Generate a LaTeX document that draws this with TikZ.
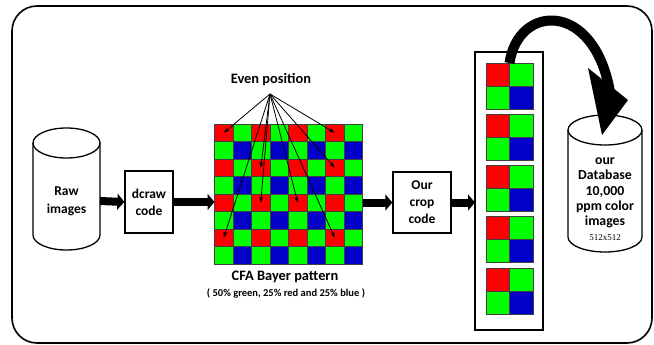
\documentclass[tikz,border=0pt]{standalone}
\usepackage{fontspec}
\setmainfont{Carlito}
\newfontfamily\sizefont{Liberation Serif}
\usetikzlibrary{arrows.meta}

% Bayer filter colours: index = 2*(row mod 2) + (col mod 2)
\definecolor{cell0}{RGB}{255,0,0}
\definecolor{cell1}{RGB}{0,255,0}
\definecolor{cell2}{RGB}{0,255,0}
\definecolor{cell3}{RGB}{0,0,200}

\tikzset{
  frame/.style={draw, line width=1.6pt, rounded corners=25pt},
  outline/.style={draw, line width=1.3pt},
  boxnode/.style={outline, fill=white, inner sep=0pt, align=center,
    font=\bfseries\fontsize{13.5}{17}\selectfont},
  hidden/.style={inner sep=0pt, outer sep=0pt},
  txt/.style={inner sep=0pt, align=center, font=\bfseries\fontsize{13.5}{18}\selectfont},
  pixel/.style={draw=black!75, line width=0.6pt, inner sep=0pt, outer sep=0pt},
  flow/.style={line width=8pt, -{Triangle[length=7pt,width=16pt]}},
  pointer/.style={line width=0.8pt, -{Stealth[length=6pt,width=4pt]}},
}

\begin{document}
\begin{tikzpicture}[x=1pt, y=-1pt]
\useasboundingbox (0,0) rectangle (654,345);

% rounded outer frame
\draw[frame] (12,6) rectangle (652,343);

% ---- raw image store (cylinder) ----
\draw[outline] (33,143) -- (33,235)
  arc[start angle=180, end angle=0, x radius=33.5, y radius=15] -- (100,143);
\draw[outline] (66.5,143) ellipse[x radius=33.5, y radius=15];
\node[hidden, minimum width=67pt, minimum height=100pt, txt] (raw) at (66.5,201) {Raw\\images};

% ---- dcraw ----
\node[boxnode, minimum width=48pt, minimum height=62pt] (dcraw) at (149,202) {dcraw\\code};

% ---- CFA Bayer grid (cells 18.5 wide, 17.5 high) ----
\node[hidden, minimum width=148pt, minimum height=140pt] (bayer) at (288.5,194) {};
\foreach \r in {0,...,7}{
  \foreach \c in {0,...,7}{
    \pgfmathtruncatemacro\k{2*mod(\r,2)+mod(\c,2)}
    \node[pixel, fill=cell\k, minimum width=18.5pt, minimum height=17.5pt] (g-\r-\c)
      at ({214.5+18.5*(\c+0.5)},{124+17.5*(\r+0.5)}) {};
  }
}
\node[txt, font=\bfseries\fontsize{14.4}{16}\selectfont] (even) at (271,80) {Even position};
\coordinate (apex) at (270,94);
\foreach \p in {0-0,0-6,2-2,2-6,4-2,4-4,6-0,6-6}
  \draw[pointer] (apex) -- (g-\p.center);

\node[txt, font=\bfseries\fontsize{14.4}{16}\selectfont] (cfa) at (285,277) {CFA Bayer pattern};
\node[txt, font=\bfseries\fontsize{10.5}{12}\selectfont] (mix) at (286,293)
  {( 50\% green, 25\% red and 25\% blue )};

% ---- crop ----
\node[boxnode, minimum width=58pt, minimum height=61pt] (crop) at (422,202.5) {Our\\crop\\code};

% ---- cropped 2x2 tiles ----
\node[outline, hidden, minimum width=68pt, minimum height=278pt] (tall) at (509,191) {};
\foreach \i in {0,...,4}{
  \pgfmathsetmacro\top{63+51.2*\i}
  \node[hidden, minimum width=47pt, minimum height=46pt] (b\i) at (509.5,{\top+23}) {};
  \foreach \r in {0,1}{
    \foreach \c in {0,1}{
      \pgfmathtruncatemacro\k{2*\r+\c}
      \node[pixel, fill=cell\k, minimum width=23.5pt, minimum height=23pt] (b\i-\r-\c)
        at ({486+23.5*(\c+0.5)},{\top+23*(\r+0.5)}) {};
    }
  }
}

% ---- database store (cylinder) ----
\draw[outline, fill=white] (568,130) -- (568,237)
  arc[start angle=180, end angle=0, x radius=37, y radius=15] -- (642,130);
\draw[outline, fill=white] (605,130) ellipse[x radius=37, y radius=15];
\node[hidden, minimum width=74pt, minimum height=110pt] (db) at (605,195) {};
\node[txt, font=\bfseries\fontsize{13.8}{15.3}\selectfont] (dbtxt) at (605,193)
  {our\\Database\\10,000\\ppm color\\images};
\node[inner sep=0pt, font=\sizefont\fontsize{9}{10}\selectfont] (dbsize) at (605,238) {512x512};

% ---- flow arrows ----
\draw[flow] (raw.east) -- (dcraw.west);
\draw[flow] (dcraw.east) -- (dcraw.east -| bayer.west);
\draw[flow] (bayer.east |- crop.west) -- (crop.west);
\draw[flow] (crop.east) -- (crop.east -| tall.west);

% ---- big curved arrow into the database ----
\coordinate (tip) at (602,135);
\coordinate (headend) at (610,92);
\draw[line width=10pt] (b0.north) .. controls (518,4) and (594,0) .. (headend);
\fill (588,68) -- (628,100) -- (tip) -- cycle;
\end{tikzpicture}
\end{document}
